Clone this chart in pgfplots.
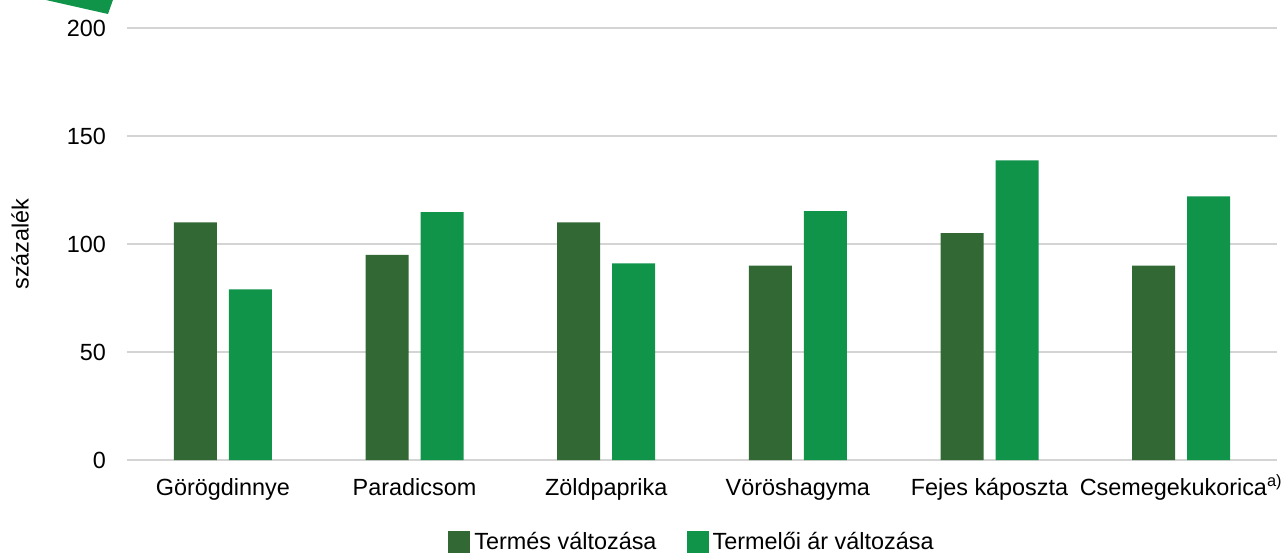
\documentclass[border=0pt]{standalone}
\usepackage{pgfplots}
\pgfplotsset{compat=1.18}
\usepackage{fontspec}
\setmainfont{Liberation Sans}
\definecolor{darkg}{HTML}{316834}
\definecolor{lightg}{HTML}{10944A}
\definecolor{gridc}{HTML}{D4D4D4}
\begin{document}
\begin{tikzpicture}[x=1pt,y=1pt]
\useasboundingbox (0,0) rectangle (641.5,276.5);
\fill[lightg] (22.5,276.6) -- (56.5,276.6) -- (54,269.5) -- cycle;
\begin{axis}[
  at={(63.5pt,46.5pt)}, anchor=south west,
  scale only axis, width=575pt, height=216pt,
  ybar=6pt, bar width=21.5pt,
  xmin=-0.5, xmax=5.5, ymin=0, ymax=200,
  xtick=data,
  xticklabels={Görögdinnye,Paradicsom,Zöldpaprika,Vöröshagyma,Fejes káposzta,Csemegekukorica\smash{\textsuperscript{a)}}},
  ytick={0,50,100,150,200},
  ymajorgrids, grid style={gridc, line width=0.8pt},
  axis line style={draw=none},
  major tick length=0pt,
  tick label style={font=\fontsize{11.7}{14}\selectfont, black},
  /pgf/number format/assume math mode=true,
  yticklabel style={xshift=-7pt},
  xticklabel style={yshift=-5pt, text height=9pt, text depth=3pt},
  ylabel={százalék},
  every axis y label/.style={at={(axis description cs:-0.093,0.5)}, rotate=90, anchor=center, font=\fontsize{11.7}{14}\selectfont},
  legend columns=2,
  legend style={at={(axis description cs:0.4922,-0.19)}, anchor=center, draw=none, fill=none,
    font=\fontsize{11.7}{14}\selectfont, column sep=0pt,
    /tikz/every even column/.append style={column sep=13pt}},
  legend image code/.code={\fill[#1] (0pt,-5.5pt) rectangle (11pt,5.5pt);},
  clip=false,
]
\addplot[fill=darkg, draw=none] coordinates {(0,110) (1,95) (2,110) (3,90) (4,105) (5,90)};
\addplot[fill=lightg, draw=none] coordinates {(0,79) (1,114.8) (2,91) (3,115.2) (4,138.7) (5,122)};
\legend{Termés változása, Termelői ár változása}
\end{axis}
\end{tikzpicture}
\end{document}
